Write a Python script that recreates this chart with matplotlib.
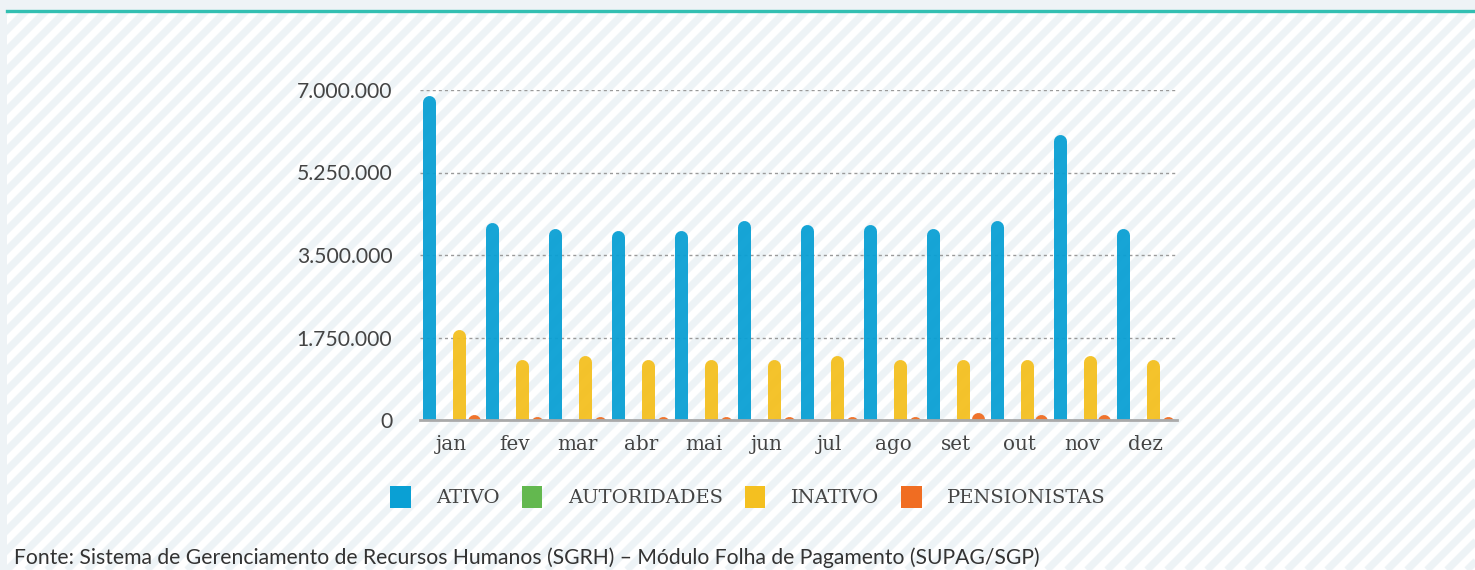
import numpy as np
import matplotlib.pyplot as plt
from matplotlib.patches import Patch

meses = ['jan', 'fev', 'mar', 'abr', 'mai', 'jun', 'jul', 'ago', 'set', 'out', 'nov', 'dez']
ativo = [6890000, 4180000, 4070000, 4010000, 4010000, 4240000, 4140000, 4140000, 4070000, 4240000, 6050000, 4070000]
autoridades = [0, 0, 0, 0, 0, 0, 0, 0, 0, 0, 0, 0]
inativo = [1930000, 1290000, 1360000, 1290000, 1290000, 1290000, 1360000, 1290000, 1290000, 1290000, 1360000, 1290000]
pensionistas = [120000, 70000, 70000, 70000, 70000, 70000, 70000, 70000, 165000, 110000, 110000, 70000]
yticks = [0, 1750000, 3500000, 5250000, 7000000]
ytick_labels = ['0', '1.750.000', '3.500.000', '5.250.000', '7.000.000']
series = ['ATIVO', 'AUTORIDADES', 'INATIVO', 'PENSIONISTAS']
colors = ['#0aa0d4', '#63b84f', '#f4c020', '#f06d22']

W, H = 1475, 570
fig = plt.figure(figsize=(W / 100, H / 100), dpi=100)
fig.patch.set_facecolor('#eef3f6')

# striped background panel with teal top line
bg = fig.add_axes([7 / W, 0, 1 - 7 / W, 559 / H])
bg.set_xlim(0, W - 7)
bg.set_ylim(0, 559)
bg.set_facecolor('white')
for c in np.arange(-580, W, 20):
    bg.plot([c, c + 580], [0, 580], color='#edf3f6', lw=5.2, solid_capstyle='butt')
bg.set_xticks([])
bg.set_yticks([])
for s in ['left', 'right', 'bottom']:
    bg.spines[s].set_visible(False)
bg.spines['top'].set_color('#33bfb2')
bg.spines['top'].set_linewidth(2.4)

# main chart
ax_h = 330
ax = fig.add_axes([420 / W, 150 / H, 757 / W, ax_h / H])
ax.set_facecolor('none')
ax.set_xlim(-0.5, 11.5)
ax.set_ylim(0, 7000000)

bar_px = 13
lw = bar_px * 0.72
r = (bar_px / 2) / ax_h * 7000000
offsets = [-0.36, -0.12, 0.115, 0.35]
x = np.arange(len(meses))
for vals, off, col in zip([ativo, autoridades, inativo, pensionistas], offsets, colors):
    for xi, v in zip(x, vals):
        ax.plot([xi + off, xi + off], [-r, v - r], color=col, lw=lw,
                solid_capstyle='round', alpha=0.95, zorder=3)

ax.set_yticks(yticks)
ax.set_yticklabels(ytick_labels, fontsize=15.2, color='#444444', fontfamily='Lato')
ax.set_xticks(x)
ax.set_xticklabels(meses, fontsize=14.3, color='#444444', fontfamily='DejaVu Serif')
ax.tick_params(axis='both', length=0)
ax.tick_params(axis='y', pad=20)
ax.tick_params(axis='x', pad=10.5)
ax.grid(axis='y', color='#9a9a9a', linestyle=(0, (2.2, 2.2)), lw=1.0)
ax.set_axisbelow(True)
for s in ['left', 'right', 'top']:
    ax.spines[s].set_visible(False)
ax.spines['bottom'].set_color('#aaaaaa')
ax.spines['bottom'].set_linewidth(2)
ax.spines['bottom'].set_zorder(4)

handles = [Patch(facecolor=c, edgecolor='none') for c in colors]
fig.legend(handles, series, loc='center', bbox_to_anchor=(748 / W, 1 - 497 / H),
           ncol=4, frameon=False, handlelength=1.05, handleheight=1.4,
           handletextpad=1.3, columnspacing=1.15,
           prop={'family': 'DejaVu Serif', 'size': 14})
for t in fig.legends[0].get_texts():
    t.set_color('#444444')

fig.text(14 / W, 1 - 558 / H,
         'Fonte: Sistema de Gerenciamento de Recursos Humanos (SGRH) – Módulo Folha de Pagamento (SUPAG/SGP)',
         fontsize=15.2, color='#333333', fontfamily='Lato', va='center')

fig.savefig('out.png', dpi=100, facecolor=fig.get_facecolor())
